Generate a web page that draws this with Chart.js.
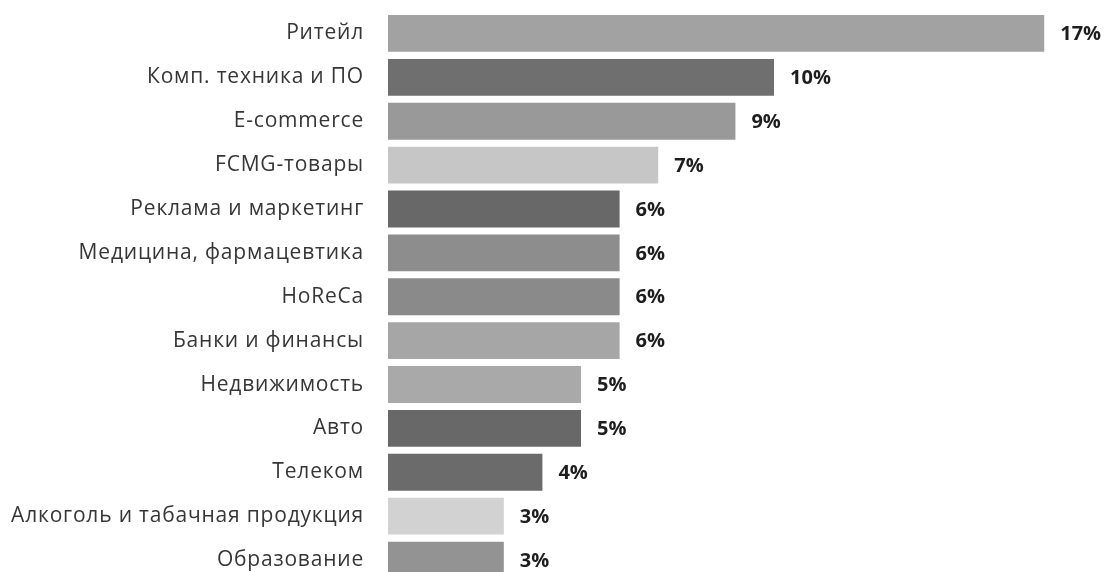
<!DOCTYPE html>
<html lang="ru">
<head>
<meta charset="utf-8">
<title>Отрасли</title>
<script src="https://cdn.jsdelivr.net/npm/chart.js@4"></script>
<style>
  html, body { margin: 0; padding: 0; background: #fff; overflow: hidden; }
  #barChart { display: block; }
</style>
</head>
<body>
<canvas id="barChart" width="1106" height="582"></canvas>
<script>
const categories = [
  'Ритейл', 'Комп. техника и ПО', 'E-commerce', 'FCMG-товары',
  'Реклама и маркетинг', 'Медицина, фармацевтика', 'HoReCa',
  'Банки и финансы', 'Недвижимость', 'Авто', 'Телеком',
  'Алкоголь и табачная продукция', 'Образование'
];
const shares = [17, 10, 9, 7, 6, 6, 6, 6, 5, 5, 4, 3, 3];
const barColors = [
  '#a2a2a2', '#6f6f6f', '#999999', '#c6c6c6', '#686868', '#8d8d8d', '#8a8a8a',
  '#a6a6a6', '#a9a9a9', '#686868', '#6b6b6b', '#d2d2d2', '#939393'
];

// category names get a little tracking, percent labels sit right of each bar
const valueLabels = {
  id: 'valueLabels',
  beforeDraw(chart) {
    chart.ctx.letterSpacing = '0.8px';
  },
  afterDatasetsDraw(chart) {
    const ctx = chart.ctx;
    const meta = chart.getDatasetMeta(0);
    ctx.save();
    ctx.letterSpacing = '0px';
    ctx.font = 'bold 20px "Open Sans", sans-serif';
    ctx.fillStyle = '#1e1e1e';
    ctx.textAlign = 'left';
    ctx.textBaseline = 'middle';
    meta.data.forEach((bar, i) => {
      ctx.fillText(shares[i] + '%', bar.x + 16, bar.y + 1);
    });
    ctx.restore();
  }
};

new Chart(document.getElementById('barChart'), {
  type: 'bar',
  data: {
    labels: categories,
    datasets: [{
      data: shares,
      backgroundColor: barColors,
      borderWidth: 0,
      barPercentage: 0.84,
      categoryPercentage: 1
    }]
  },
  options: {
    indexAxis: 'y',
    responsive: false,
    animation: false,
    devicePixelRatio: 1,
    layout: { padding: { top: 11.5, right: 0, bottom: 0, left: 0 } },
    plugins: {
      legend: { display: false },
      tooltip: { enabled: false }
    },
    scales: {
      x: {
        display: false,
        min: 0,
        max: 18.6
      },
      y: {
        grid: { display: false, drawTicks: false },
        border: { display: false },
        ticks: {
          padding: 24,
          color: '#363636',
          font: { family: '"Open Sans", sans-serif', size: 21 }
        },
        afterFit(scale) {
          // fixed label column, no extra space above/below the bars
          scale.width = 388;
          scale.paddingTop = 0;
          scale.paddingBottom = 0;
        }
      }
    }
  },
  plugins: [valueLabels]
});
</script>
</body>
</html>
